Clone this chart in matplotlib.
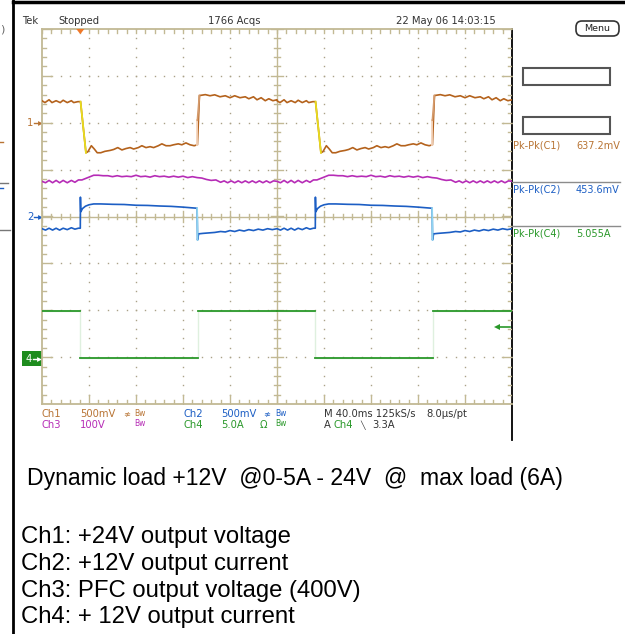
import matplotlib
matplotlib.use("Agg")
import matplotlib.pyplot as plt
from matplotlib.patches import Rectangle, FancyBboxPatch, Polygon
import numpy as np

W, H = 625, 634

# graticule placement on the page (pixels)
GRID_LEFT, GRID_TOP, GRID_RIGHT, GRID_BOTTOM = 42, 29, 512, 404

# one 200 ms load cycle, the screen holds two identical cycles (40 ms/div)
CYCLE_MS = 200
MS_PER_DIV = 40

# Ch1: +24V output, AC coupled, 500 mV/div
CH1_T = [0, 2.5, 6, 8.5, 12, 15.5, 18, 21.5, 25, 27, 30.5, 32.8, 37.4, 39, 42, 44.5,
         47, 50, 53.5, 58, 61, 64.5, 68, 71.5, 75, 78, 82, 85, 88.5, 92, 95, 99,
         102, 105.5, 109, 112, 116, 119, 122.5, 126, 129.5, 132.3, 134, 139, 143,
         147, 151.5, 156, 160, 164, 168.5, 173, 176, 180, 183, 186.5, 190, 193,
         196.5, 200]
CH1_MV = [235, 215, 245, 215, 235, 215, 240, 215, 235, 215, 225, 225, -320, -310, -245, -280,
          -320, -320, -305, -295, -285, -265, -290, -275, -265, -280, -265, -245, -265, -255, -265, -245,
          -225, -245, -245, -235, -225, -235, -215, -235, -245, -235, 290, 300, 288,
          298, 277, 288, 267, 288, 267, 277, 256, 277, 245, 267, 235, 256,
          235, 245]

# Ch2: +12V output current probe, AC coupled, 500 mV/div
CH2_T = [0, 3, 6, 9, 12, 15, 18, 21.5, 25, 28, 31, 32.6, 32.7, 33.0, 34.5, 37, 40, 44,
         50, 60, 70, 80, 90, 100, 110, 120, 128, 132, 132.4, 133.3, 137, 142, 147,
         152, 156, 160, 164, 168, 172, 176, 180, 184, 188, 192, 196, 200]
CH2_MV = [-130, -145, -125, -145, -125, -145, -125, -140, -120, -135, -125, -125, 206, 50, 85, 110, 125, 134,
          134, 130, 128, 120, 118, 112, 108, 100, 92, 88, -249, -185, -180, -175, -170,
          -160, -165, -150, -160, -145, -155, -140, -150, -135, -145, -130, -140, -130]

# Ch3: PFC output voltage, 100 V/div
CH3_T = [0, 3, 6, 9, 12, 15, 18, 21.5, 25, 28, 31, 34, 37, 40, 44, 48, 52, 56, 60, 64,
         68, 72, 76, 80, 84, 88, 92, 96, 100, 104, 108, 112, 116, 120, 124, 128,
         132, 136, 140, 144, 148, 152, 155, 158, 161, 164, 167, 170, 173, 176, 179,
         182, 185, 188, 191, 194, 197, 200]
CH3_V = [393, 390, 395, 390, 395, 390, 395, 390, 395, 391, 396, 396, 399, 402, 406, 406, 405, 405, 403, 405,
         403, 404, 403, 406, 403, 404, 402, 405, 403, 404, 402, 404, 402, 404, 401, 403,
         401, 400, 397, 395, 396, 391, 394, 390, 394, 390, 394, 390, 394, 390, 394,
         390, 394, 390, 394, 390, 394, 393]

# Ch4: +12V output current, 5 A/div
CH4_T = [0, 32.6, 32.6, 132.5, 132.5, 200]
CH4_A = [5.05, 5.05, 0.0, 0.0, 5.05, 5.05]

# channel scale (units/div) and ground/reference position (div)
CH1_SCALE, CH1_POS = 500, 2.0
CH2_SCALE, CH2_POS = 500, 0.0
CH3_SCALE, CH3_REF, CH3_POS = 100, 400, 0.82
CH4_SCALE, CH4_POS = 5.0, -3.02
TRIG_A = 3.3

READOUTS = [("Pk-Pk(C1)", "637.2mV"), ("Pk-Pk(C2)", "453.6mV"), ("Pk-Pk(C4)", "5.055A")]

CAPTION = "Dynamic load +12V  @0-5A - 24V  @  max load (6A)"
CHANNEL_NOTES = [
    "Ch1: +24V output voltage",
    "Ch2: +12V output current",
    "Ch3: PFC output voltage (400V)",
    "Ch4: + 12V output current",
]

C1 = "#b4621c"
C1_TXT = "#b87434"
C2 = "#1c5ec4"
C3 = "#b62cb6"
C4 = "#2a982a"
TAN = "#c2b994"
DOT = "#aaa288"
SCOPE_FONT = "DejaVu Sans"


def two_cycles(t, v):
    t = np.asarray(t, float)
    v = np.asarray(v, float)
    tt = np.concatenate([t, t + CYCLE_MS]) / MS_PER_DIV
    vv = np.concatenate([v, v])
    return tt, vv


def draw_graticule(ax):
    ys = np.arange(-4, 4.001, 0.2)
    xs = np.arange(0, 10.001, 0.2)
    for gx in range(1, 10):
        if gx == 5:
            continue
        ax.plot(np.full_like(ys, gx), ys, ls="none", marker="s", ms=1.0, mew=0, color=DOT, zorder=1)
    for gy in range(-3, 4):
        if gy == 0:
            continue
        ax.plot(xs, np.full_like(xs, gy), ls="none", marker="s", ms=1.0, mew=0, color=DOT, zorder=1)

    ax.axhline(0, color=TAN, lw=1.0, zorder=1)
    ax.axvline(5, color=TAN, lw=1.0, zorder=1)

    dx = 1 / 47      # one pixel in x (div)
    dy = 1 / 46.9    # one pixel in y (div)
    for x in xs:
        major = abs(x - round(x)) < 1e-6
        # centre horizontal rule
        h = (6 if major else 3) * dy
        ax.plot([x, x], [-h, h], color=TAN, lw=1.0, zorder=1)
        # top edge
        ax.plot([x, x], [4 - 4 * dy, 4], color=TAN, lw=1.0, zorder=1)
        # bottom edge
        hb = (9 if major else 4) * dy
        ax.plot([x, x], [-4, -4 + hb], color=TAN, lw=1.0, zorder=1)
    for y in ys:
        major = abs(y - round(y)) < 1e-6
        w = (6 if major else 3) * dx
        ax.plot([5 - w, 5 + w], [y, y], color=TAN, lw=1.0, zorder=1)
        we = (10 if major else 4) * dx
        ax.plot([0, we], [y, y], color=TAN, lw=1.0, zorder=1)
        ax.plot([10 - we, 10], [y, y], color=TAN, lw=1.0, zorder=1)


def draw_traces(ax):
    # Ch3
    t, v = two_cycles(CH3_T, CH3_V)
    ax.plot(t, (v - CH3_REF) / CH3_SCALE + CH3_POS, color=C3, lw=1.2, zorder=3)

    # Ch1, slow falling edge drawn yellow, rising edge pale
    t, v = two_cycles(CH1_T, CH1_MV)
    y = v / CH1_SCALE + CH1_POS
    ax.plot(t, y, color=C1, lw=1.2, zorder=3)
    for i in range(len(t) - 1):
        step = y[i + 1] - y[i]
        if step < -0.8:
            ax.plot(t[i:i + 2], y[i:i + 2], color="#e8dc1c", lw=1.3, zorder=4)
        elif step > 0.8:
            mid = (y[i] + y[i + 1]) / 2
            ax.plot([t[i], t[i]], [y[i], mid], color="#f4d4bc", lw=1.3, zorder=4)
            ax.plot([t[i], t[i + 1]], [mid, y[i + 1]], color="#d49a6c", lw=1.3, zorder=4)

    # Ch2, negative edges drawn light
    t, v = two_cycles(CH2_T, CH2_MV)
    y = v / CH2_SCALE + CH2_POS
    ax.plot(t, y, color=C2, lw=1.2, zorder=3)
    for i in range(len(t) - 1):
        if y[i + 1] - y[i] < -0.5:
            ax.plot(t[i:i + 2], y[i:i + 2], color="#8fd4f0", lw=1.3, zorder=4)

    # Ch4, edges barely visible
    t, v = two_cycles(CH4_T, CH4_A)
    y = v / CH4_SCALE + CH4_POS
    ax.plot(t, y, color="#dff0df", lw=1.0, zorder=2)
    flat = np.isclose(np.diff(t), 0)
    for i in range(len(t) - 1):
        if not flat[i]:
            ax.plot(t[i:i + 2], y[i:i + 2], color=C4, lw=1.3, zorder=3)

    # trigger level arrow (falling edge on Ch4)
    trig = TRIG_A / CH4_SCALE + CH4_POS
    ax.plot([9.7, 9.95], [trig, trig], color=C4, lw=1.2, zorder=4)
    ax.plot([9.68], [trig], marker="<", ms=4, color=C4, mew=0, zorder=4)

    # trigger position marker at the top edge
    tpos = CH4_T[1] / MS_PER_DIV
    ax.add_patch(Polygon([(tpos - 0.085, 4.0), (tpos + 0.085, 4.0), (tpos, 3.89)], closed=True,
                         fc="#f07828", ec="none", zorder=5, clip_on=False))


def stext(ax, x, y, s, color="#333333", size=7.2, **kw):
    ax.text(x, y, s, color=color, fontsize=size, family=SCOPE_FONT, va="center", ha="left", **kw)


def draw_page(ax):
    # page border
    ax.plot([13, W], [2, 2], color="black", lw=2.5)
    ax.plot([13, 13], [0, H], color="black", lw=2)
    ax.plot([GRID_RIGHT, GRID_RIGHT], [GRID_TOP, 440], color="black", lw=1.3)

    # cut-off marks at far left
    ax.text(0, 30, ")", fontsize=8, color="#666666", va="center", ha="left")
    ax.plot([0, 3], [142, 142], color=C1_TXT, lw=1)
    ax.plot([0, 8], [183, 183], color="#777777", lw=1)
    ax.plot([0, 3], [188, 188], color=C2, lw=1)
    ax.plot([0, 10], [230, 230], color="#777777", lw=1)

    # header
    stext(ax, 22, 21, "Tek")
    stext(ax, 58, 21, "Stopped")
    stext(ax, 208, 21, "1766 Acqs")
    stext(ax, 396, 21, "22 May 06 14:03:15")
    menu = FancyBboxPatch((576, 21), 43, 15, boxstyle="round,pad=0,rounding_size=6",
                          fc="white", ec="#333333", lw=1.2)
    ax.add_patch(menu)
    ax.text(597.5, 28.5, "Menu", fontsize=6.8, family=SCOPE_FONT, color="#222222", ha="center", va="center")

    # empty side-menu boxes
    ax.add_patch(Rectangle((523, 68), 87, 17, fc="none", ec="#555555", lw=1.5))
    ax.add_patch(Rectangle((523, 117), 87, 17, fc="none", ec="#555555", lw=1.5))

    # measurement readouts
    colors = [C1_TXT, C2, C4]
    rows = [146, 190, 234]
    for (name, val), c, yy in zip(READOUTS, colors, rows):
        stext(ax, 513, yy, name, color=c, size=7)
        stext(ax, 576, yy, val, color=c, size=7)
    ax.plot([GRID_RIGHT, 620], [182, 182], color="#8c8c8c", lw=1)
    ax.plot([GRID_RIGHT, 620], [226, 226], color="#8c8c8c", lw=1)

    # channel ground markers
    stext(ax, 27, 123, "1", color=C1_TXT)
    ax.plot([34, 39], [123, 123], color=C1_TXT, lw=1)
    ax.plot([39.5], [123], marker=">", ms=3.5, color=C1_TXT, mew=0)
    stext(ax, 27, 217, "2", color=C2)
    ax.plot([34, 39], [217, 217], color=C2, lw=1)
    ax.plot([39.5], [217], marker=">", ms=3.5, color=C2, mew=0)
    ax.add_patch(Rectangle((22, 351), 20, 15, fc="#1e8c1e", ec="none"))
    stext(ax, 26, 358.5, "4", color="white")
    ax.plot([33, 38], [358.5, 358.5], color="white", lw=1)
    ax.plot([38.5], [358.5], marker=">", ms=3.5, color="white", mew=0)

    # channel settings
    r1, r2 = 414, 425
    stext(ax, 42, r1, "Ch1", color=C1_TXT)
    stext(ax, 80, r1, "500mV", color=C1_TXT)
    stext(ax, 123, r1, "\u2249", color=C1_TXT, size=6)
    stext(ax, 134, r1 - 1, "Bw", color=C1_TXT, size=5.5)
    stext(ax, 183, r1, "Ch2", color=C2)
    stext(ax, 221, r1, "500mV", color=C2)
    stext(ax, 263, r1, "\u2249", color=C2, size=6)
    stext(ax, 275, r1 - 1, "Bw", color=C2, size=5.5)
    stext(ax, 324, r1, "M 40.0ms 125kS/s")
    stext(ax, 426, r1, "8.0\u00b5s/pt")

    stext(ax, 42, r2, "Ch3", color=C3)
    stext(ax, 80, r2, "100V", color=C3)
    stext(ax, 134, r2 - 1, "Bw", color=C3, size=5.5)
    stext(ax, 183, r2, "Ch4", color=C4)
    stext(ax, 221, r2, "5.0A", color=C4)
    stext(ax, 260, r2, "\u03a9", color=C4)
    stext(ax, 275, r2 - 1, "Bw", color=C4, size=5.5)
    stext(ax, 324, r2, "A")
    stext(ax, 334, r2, "Ch4", color=C4)
    stext(ax, 360, r2, "\u2572", size=5.5)
    stext(ax, 372, r2, "3.3A")

    # caption below the screen
    ax.text(27, 479, CAPTION, fontsize=16.6, family="Liberation Sans", color="black",
            va="center", ha="left")
    for k, line in enumerate(CHANNEL_NOTES):
        ax.text(21, 537 + 26.8 * k, line, fontsize=17.2, family="Liberation Sans",
                color="black", va="center", ha="left")


def main():
    fig = plt.figure(figsize=(W / 100, H / 100), dpi=100)
    page = fig.add_axes([0, 0, 1, 1])
    page.set_xlim(0, W)
    page.set_ylim(H, 0)
    page.axis("off")
    draw_page(page)

    scope = fig.add_axes([GRID_LEFT / W, 1 - GRID_BOTTOM / H,
                          (GRID_RIGHT - GRID_LEFT) / W, (GRID_BOTTOM - GRID_TOP) / H])
    scope.set_xlim(0, 10)
    scope.set_ylim(-4, 4)
    scope.set_facecolor("none")
    scope.set_xticks([])
    scope.set_yticks([])
    for side in ["left", "top", "bottom"]:
        scope.spines[side].set_color(TAN)
        scope.spines[side].set_linewidth(1.3)
    scope.spines["right"].set_visible(False)
    draw_graticule(scope)
    draw_traces(scope)

    fig.savefig("out.png", dpi=100)


if __name__ == "__main__":
    main()
